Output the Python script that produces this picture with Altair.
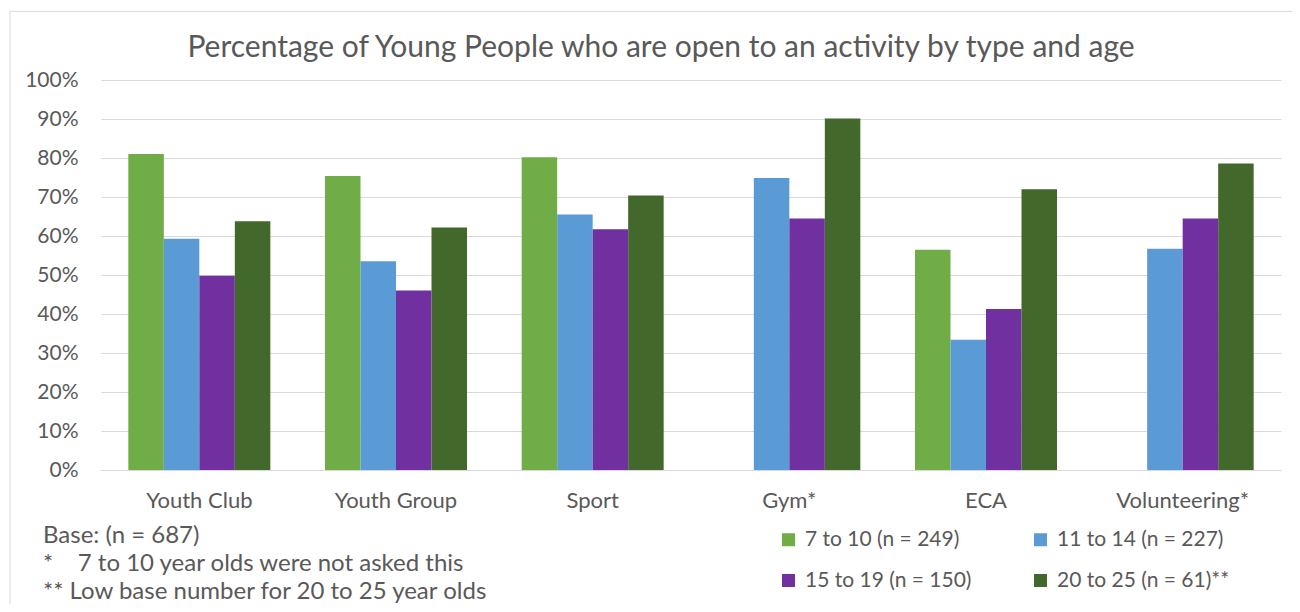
import altair as alt
import pandas as pd

categories = ["Youth Club", "Youth Group", "Sport", "Gym*", "ECA", "Volunteering*"]
series = ["7 to 10 (n = 249)", "11 to 14 (n = 227)", "15 to 19 (n = 150)", "20 to 25 (n = 61)**"]
age_7_10 = [81.0, 75.4, 80.2, None, 56.5, None]
age_11_14 = [59.3, 53.5, 65.5, 74.9, 33.4, 56.7]
age_15_19 = [49.8, 46.0, 61.7, 64.5, 41.3, 64.5]
age_20_25 = [63.8, 62.2, 70.4, 90.1, 72.0, 78.6]
colors = ["#70AD47", "#5B9BD5", "#7030A0", "#43682B"]
y_ticks = [0, 10, 20, 30, 40, 50, 60, 70, 80, 90, 100]
title_text = "Percentage of Young People who are open to an activity by type and age"
note_base = "Base: (n = 687)"
note_star = "*\u00a0\u00a0\u00a0\u00a07 to 10 year olds were not asked this"
note_dstar = "** Low base number for 20 to 25 year olds"

FONT = "Lato"
GREY = "#595959"
GRID = "#D9D9D9"

rows = []
for s, vals in zip(series, [age_7_10, age_11_14, age_15_19, age_20_25]):
    for c, v in zip(categories, vals):
        if v is not None:
            rows.append({"category": c, "age": s, "value": v})
df = pd.DataFrame(rows)

bars = alt.Chart(df).mark_bar().encode(
    x=alt.X(
        "category:N",
        sort=categories,
        scale=alt.Scale(domain=categories, paddingInner=0.278, paddingOuter=0.139),
        axis=alt.Axis(
            title=None, labelAngle=0, labelFontSize=22, labelColor=GREY, labelFont=FONT,
            domainColor=GRID, domainWidth=1, ticks=False, labelPadding=20,
        ),
    ),
    xOffset=alt.XOffset("age:N", sort=series, scale=alt.Scale(domain=series, paddingInner=0, paddingOuter=0)),
    y=alt.Y(
        "value:Q",
        scale=alt.Scale(domain=[0, 100], nice=False),
        axis=alt.Axis(
            title=None, values=y_ticks, labelExpr="datum.value + '%'", labelFontSize=21,
            labelColor=GREY, labelFont=FONT, domain=False, ticks=False, labelPadding=23,
            gridColor=GRID, gridWidth=1,
        ),
    ),
    color=alt.Color(
        "age:N",
        sort=series,
        scale=alt.Scale(domain=series, range=colors),
        legend=alt.Legend(
            title=None, orient="none", legendX=677, legendY=449, columns=2,
            direction="horizontal", columnPadding=58, rowPadding=19,
            symbolType="square", symbolSize=169, symbolStrokeWidth=0, labelOffset=6,
            labelFontSize=21, labelFont=FONT, labelColor=GREY, padding=0, labelLimit=400,
        ),
    ),
)

frame = alt.Chart(pd.DataFrame({"k": [0]})).mark_rect(
    fill="transparent", stroke=GRID, strokeWidth=1
).encode(x=alt.value(-91), y=alt.value(-68.6), x2=alt.value(1300), y2=alt.value(700))

title = alt.Chart(pd.DataFrame({"t": [title_text]})).mark_text(
    font=FONT, fontSize=30, color=GREY, align="center", baseline="middle"
).encode(text="t:N", x=alt.value(560), y=alt.value(-32))

def note(txt, yv):
    return alt.Chart(pd.DataFrame({"t": [txt]})).mark_text(
        font=FONT, fontSize=24, color=GREY, align="left", baseline="alphabetic"
    ).encode(text="t:N", x=alt.value(-58), y=alt.value(yv))

chart = alt.layer(
    frame, bars, title,
    note(note_base, 463.2), note(note_star, 491.2), note(note_dstar, 518.7),
).properties(
    width=1180, height=390,
    autosize=alt.AutoSizeParams(type="none"),
    padding={"left": 93, "top": 72, "right": 11, "bottom": 134},
    background="white",
).configure_view(strokeWidth=0)

chart.save("out.html", embed_options={"renderer": "svg", "actions": False})
